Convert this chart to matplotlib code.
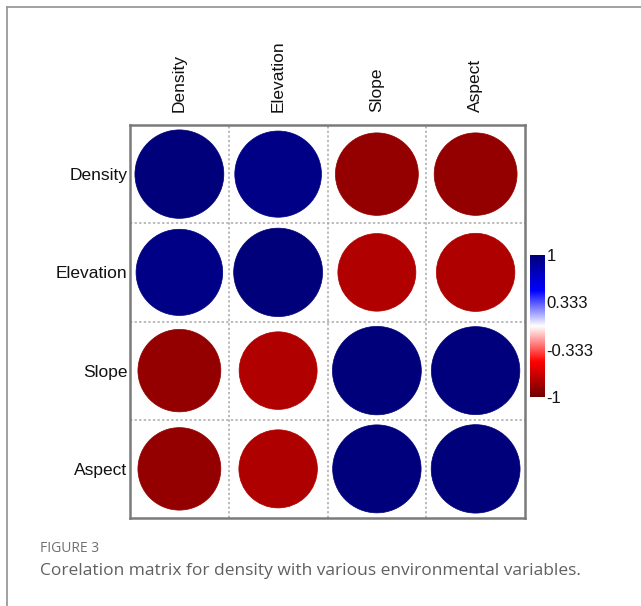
import numpy as np
import matplotlib
matplotlib.use("Agg")
import matplotlib.pyplot as plt
from matplotlib.patches import Circle
from matplotlib.colors import LinearSegmentedColormap
from matplotlib.lines import Line2D

# ------------------------------
# data
# ------------------------------
variables = ["Density", "Elevation", "Slope", "Aspect"]
row_density = [1.00, 0.95, -0.87, -0.87]
row_elevation = [0.95, 1.00, -0.77, -0.78]
row_slope = [-0.87, -0.77, 1.00, 0.99]
row_aspect = [-0.87, -0.78, 0.99, 1.00]
cbar_ticks = [1, 0.333, -0.333, -1]
cbar_ticklabels = ["1", "0.333", "-0.333", "-1"]

corr = np.array([row_density, row_elevation, row_slope, row_aspect])
n = len(variables)

# ------------------------------
# style
# ------------------------------
plt.rcParams["font.family"] = ["Liberation Sans", "DejaVu Sans"]
cmap = LinearSegmentedColormap.from_list(
    "corr", ["#700000", "#ff0000", "#ffffff", "#0000ff", "#00007a"]
)

fig = plt.figure(figsize=(6.41, 6.06), dpi=100)

# card frame (top and left edges)
frame = "#9a9a9a"
fig.add_artist(Line2D([7 / 641, 7 / 641], [0, 1 - 7 / 606], color=frame, lw=1.3))
fig.add_artist(Line2D([7 / 641, 1], [1 - 7 / 606, 1 - 7 / 606], color=frame, lw=1.3))

# ------------------------------
# correlation matrix
# ------------------------------
ax = fig.add_axes([130 / 641, 1 - 518 / 606, 395 / 641, 393 / 606])
ax.set_xlim(0, n)
ax.set_ylim(n, 0)

for k in range(1, n):
    ax.axhline(k, color="#a8a8a8", lw=1.1, ls=(0, (1.5, 1.5)), zorder=1)
    ax.axvline(k, color="#a8a8a8", lw=1.1, ls=(0, (1.5, 1.5)), zorder=1)

for i in range(n):
    for j in range(n):
        r = corr[i, j]
        col = cmap((r + 1) / 2)
        ax.add_patch(Circle((j + 0.5, i + 0.5), 0.45 * np.sqrt(abs(r)),
                            facecolor=col, edgecolor=col, lw=0.5, zorder=2))

for s in ax.spines.values():
    s.set_color("#7a7a7a")
    s.set_linewidth(1.8)

ax.set_xticks(np.arange(n) + 0.5)
ax.set_yticks(np.arange(n) + 0.5)
ax.set_xticklabels(variables, rotation=90, fontsize=12.5, color="#111111")
ax.set_yticklabels(variables, fontsize=12.5, color="#111111")
ax.xaxis.tick_top()
ax.tick_params(axis="x", length=0, pad=9)
ax.tick_params(axis="y", length=0, pad=2)

# ------------------------------
# colour bar
# ------------------------------
cax = fig.add_axes([530 / 641, 1 - 397 / 606, 15 / 641, 142 / 606])
grad = np.linspace(-1, 1, 256).reshape(-1, 1)
cax.imshow(grad, aspect="auto", cmap=cmap, vmin=-1, vmax=1,
           origin="lower", extent=[0, 1, -1, 1])
cax.set_xticks([])
cax.yaxis.tick_right()
cax.set_yticks(cbar_ticks)
cax.set_yticklabels(cbar_ticklabels, fontsize=12, color="#111111")
cax.tick_params(length=0, pad=1)
for s in cax.spines.values():
    s.set_visible(False)

# ------------------------------
# caption
# ------------------------------
fig.text(40 / 641, 1 - 548 / 606, "FIGURE 3", fontsize=10, color="#707070",
         family=["Open Sans", "DejaVu Sans"], va="center")
fig.text(40 / 641, 1 - 571 / 606,
         "Corelation matrix for density with various environmental variables.",
         fontsize=12.5, color="#606060", family=["Open Sans", "DejaVu Sans"],
         va="center")

fig.savefig("out.png", dpi=100)
